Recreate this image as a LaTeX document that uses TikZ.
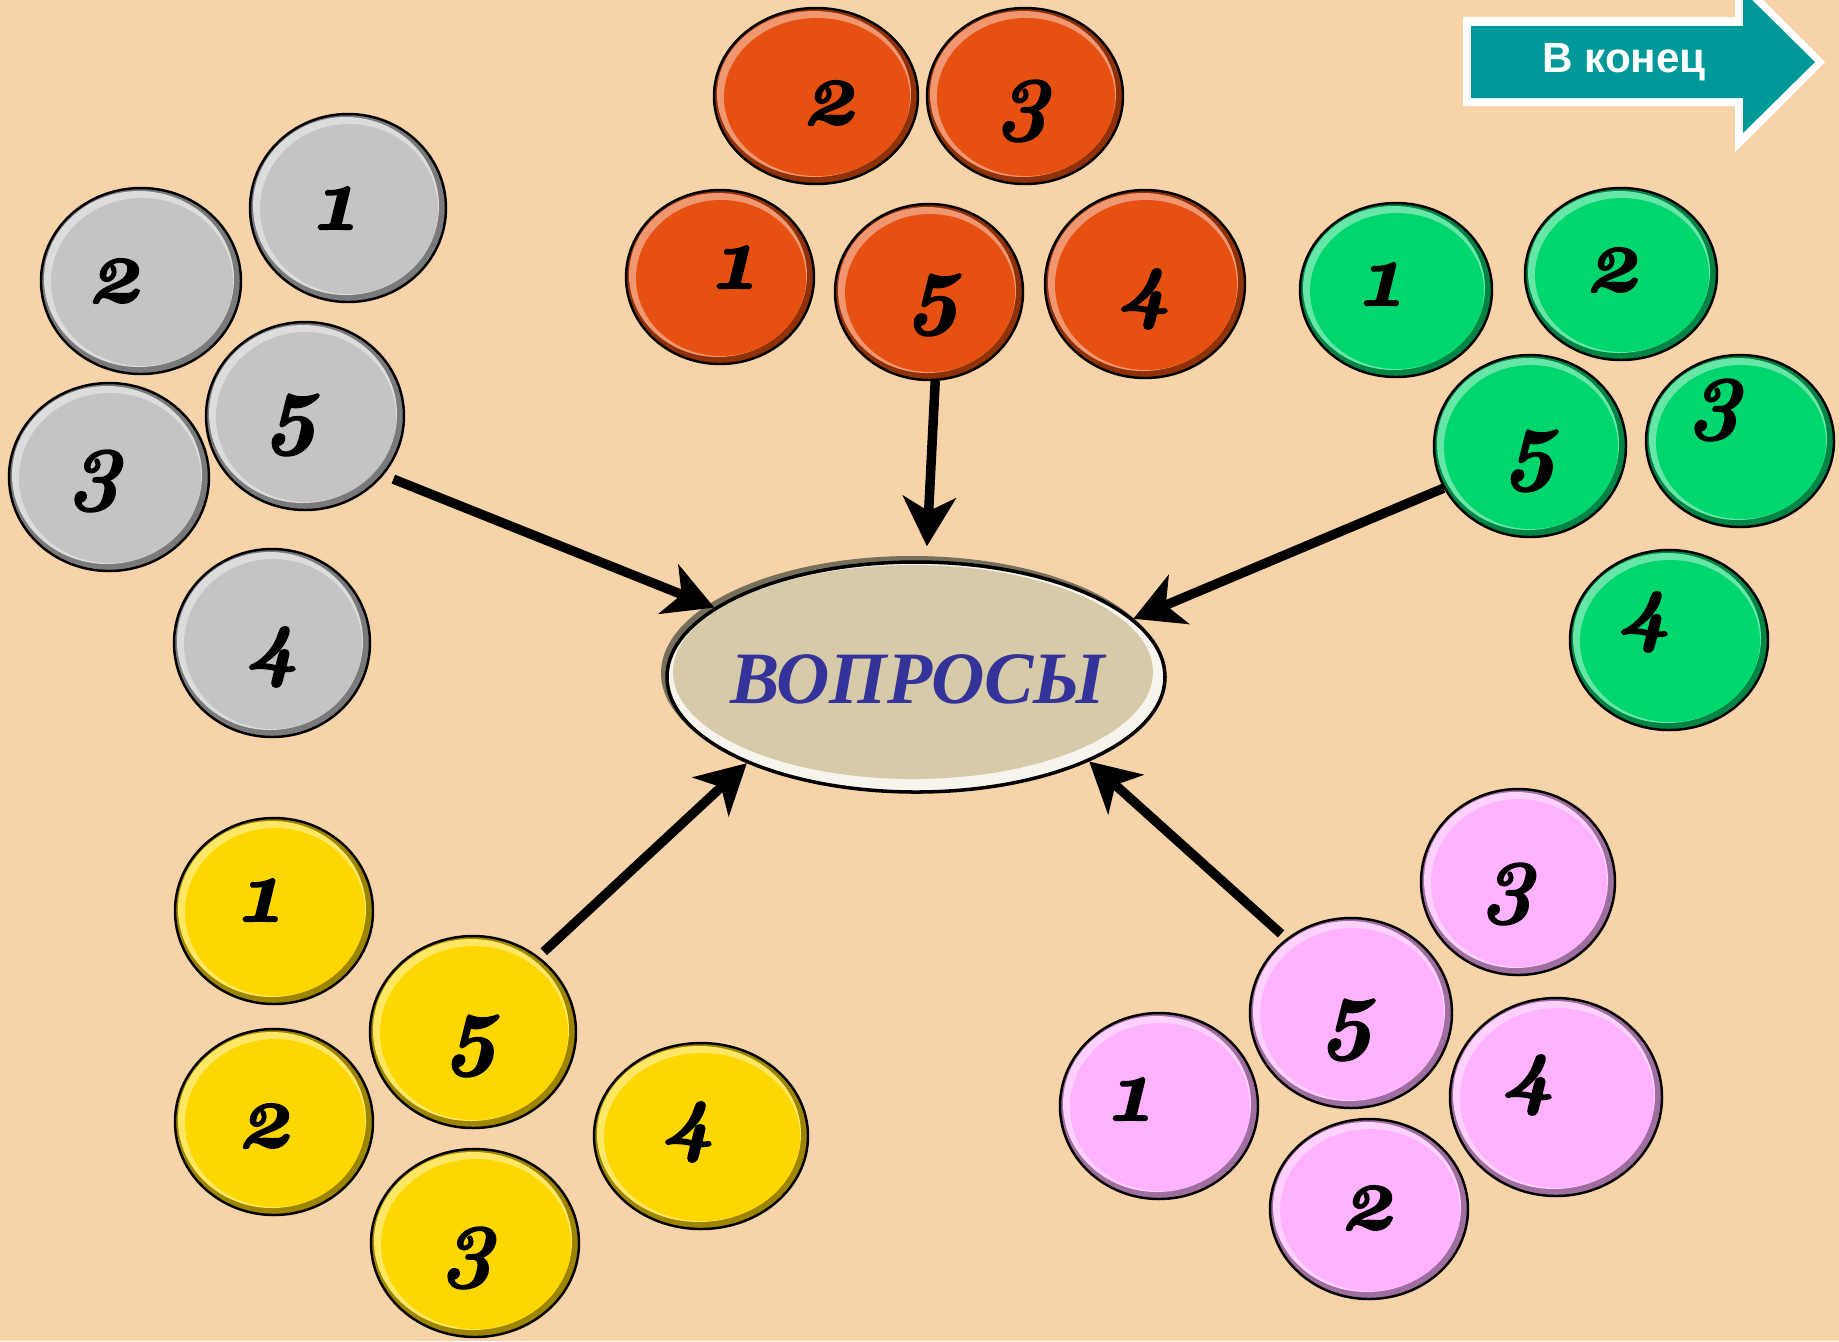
\documentclass[tikz,border=0pt]{standalone}
\usepackage{fontspec}
\setmainfont{Liberation Serif}
\newfontfamily\digitfont[Numbers=OldStyle,BoldItalicFeatures={FakeBold=1.6}]{Latin Modern Roman}
\newfontfamily\labelfont{Liberation Sans}
\usetikzlibrary{shapes.geometric,arrows.meta}

\definecolor{bgpeach}{RGB}{247,211,169}
\definecolor{btngrey}{RGB}{196,196,196}
\definecolor{btnorange}{RGB}{230,80,16}
\definecolor{btngreen}{RGB}{0,214,110}
\definecolor{btnyellow}{RGB}{255,215,0}
\definecolor{btnpink}{RGB}{255,179,255}
\definecolor{ovalfill}{RGB}{214,202,168}
\definecolor{ovaltext}{RGB}{51,51,153}
\definecolor{endteal}{RGB}{0,153,153}

\tikzset{
  btn/.style={ellipse, draw=black, line width=0.7pt, inner sep=0pt},
  digit/.style={font={\digitfont\bfseries\itshape\fontsize{26pt}{26pt}\selectfont}, text=black},
  pointer/.style={-{Stealth[length=14pt,width=15pt,inset=4pt]}, line width=2.7pt, black},
}

\begin{document}
\begin{tikzpicture}[x=0.01cm,y=-0.01cm]
	\useasboundingbox (0,0) rectangle (1839,1341);
	\fill[bgpeach] (0,0) rectangle (1839,1341);

	% buttons: prefix/colour/number/x/y/rx/ry/digit x/digit y
	\foreach \p/\c/\n/\x/\y/\a/\b/\tx/\ty in {
		gy/btngrey/1/348/208/98/94/334/208,
		gy/btngrey/2/141/281/100/93/115/281,
		gy/btngrey/3/109/477/100/94/96/481,
		gy/btngrey/4/272/643/98/94/272/657,
		gy/btngrey/5/305/416/99/94/293/425,
		or/btnorange/2/816/96/102/88/830/103,
		or/btnorange/3/1025/96/98/88/1024/111,
		or/btnorange/1/720/277/94/87/733/267,
		or/btnorange/4/1145/284/100/94/1144/299,
		or/btnorange/5/929/292/94/88/935/305,
		gn/btngreen/1/1396/290/96/87/1380/284,
		gn/btngreen/2/1621/274/96/86/1613/270,
		gn/btngreen/3/1740/441/94/86/1716/410,
		gn/btngreen/4/1669/640/99/90/1644/622,
		gn/btngreen/5/1530/446/96/91/1532/461,
		yw/btnyellow/1/274/911/99/93/259/900,
		yw/btnyellow/2/274/1122/99/93/265/1126,
		yw/btnyellow/4/701/1136/107/93/688/1132,
		yw/btnyellow/3/475/1243/104/94/469/1258,
		yw/btnyellow/5/473/1032/103/96/473/1046,
		pk/btnpink/3/1518/882/97/93/1509/894,
		pk/btnpink/1/1159/1106/99/93/1129/1099,
		pk/btnpink/2/1369/1209/99/90/1368/1208,
		pk/btnpink/4/1556/1097/106/99/1528/1085,
		pk/btnpink/5/1351/1013/101/95/1349/1030%
	} {
		\fill[\c!62!black] (\x,\y) ellipse [x radius=\a, y radius=\b];
		\fill[\c!60!white] (\x-2,\y-2) ellipse [x radius=\a-5, y radius=\b-5];
		\fill[\c] (\x+1,\y+1) ellipse [x radius=\a-9, y radius=\b-9];
		\node (\p\n) at (\x,\y) [btn, minimum width=2*\a*0.01cm, minimum height=2*\b*0.01cm] {};
		\node (\p\n-d) at (\tx,\ty) [digit] {\n};
	}

	% centre oval
	\fill[ovalfill!55!black] (912,673) ellipse [x radius=251, y radius=117];
	\fill[white!80!ovalfill] (916,677) ellipse [x radius=249, y radius=115];
	\fill[ovalfill] (913,672) ellipse [x radius=240, y radius=107];
	\node (q) at (916,677) [ellipse, draw=black, line width=1pt, inner sep=0pt,
		minimum width=498*0.01cm, minimum height=230*0.01cm] {};
	\node (q-t) at (918,679) [font=\bfseries\itshape\fontsize{21pt}{21pt}\selectfont, text=ovaltext] {ВОПРОСЫ};

	\draw[pointer, shorten <=3pt] (gy5.-37) -- (q.161);
	\draw[pointer, shorten >=4pt] (or5.-86) -- (q.85);
	\draw[pointer] (gn5.206) -- (q.15);
	\draw[pointer, shorten <=2pt] (yw5.49) -- (q.207);
	\draw[pointer, shorten <=2pt] (pk5.131) -- (q.-26);

	% end button
	\fill[white] (1463,17) -- (1735,17) -- (1735,-28) -- (1825,62) -- (1735,152) -- (1735,106) -- (1463,106) -- cycle;
	\fill[endteal] (1471,26) -- (1743,26) -- (1743,-9) -- (1815,62) -- (1743,133) -- (1743,98) -- (1471,98) -- cycle;
	\node (kon) at (1624,62) [font=\labelfont\bfseries\fontsize{12pt}{12pt}\selectfont, text=white] {В конец};
\end{tikzpicture}
\end{document}
